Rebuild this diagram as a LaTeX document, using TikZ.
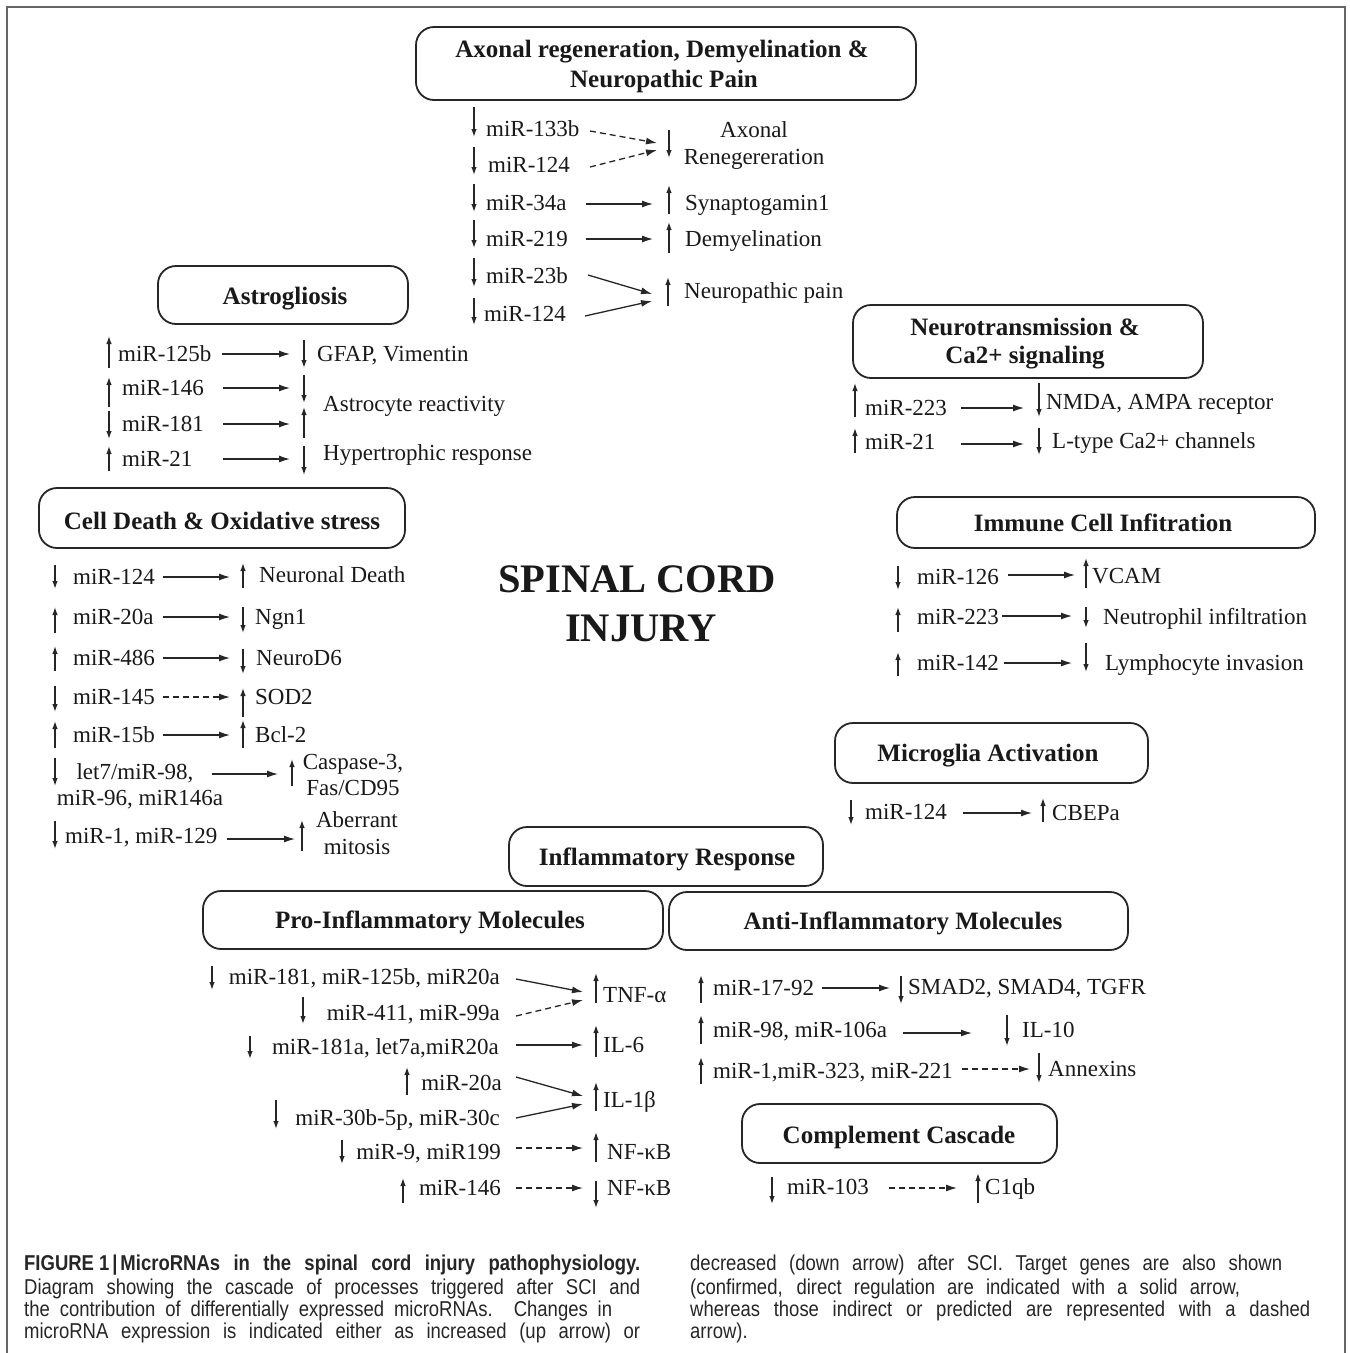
\documentclass[tikz,border=0pt]{standalone}
\usepackage{fontspec}
\setmainfont{Liberation Serif}
\newfontfamily\capfont[FakeStretch=0.86]{Liberation Sans}
\usetikzlibrary{arrows.meta}
\tikzset{
  hbox/.style={draw=black!85, line width=1.8pt, rounded corners=18pt, inner sep=0pt},
  htxt/.style={inner sep=0pt, align=center, text height=17pt, text depth=0pt,
    font=\bfseries\fontsize{25}{30}\selectfont, text=black!90},
  lbl/.style={inner sep=0pt, anchor=west, text height=15.2pt, text depth=0pt, font=\fontsize{23}{27}\selectfont, text=black!90},
  rlbl/.style={lbl, anchor=east},
  con/.style={line width=1.3pt, -{Latex[length=11pt,width=7pt]}, draw=black!85},
  dcon/.style={con, dash pattern=on 6pt off 4pt},
  ind/.style={line width=1.3pt, -{Latex[length=8pt,width=5.5pt]}, draw=black!85},
  capl/.style={inner sep=0pt, anchor=west, text height=15pt, text depth=0pt, font=\capfont\fontsize{21.5}{23}\selectfont, text=black!85},
}
\newcommand{\Ind}[3]{\draw[ind] (#1,#2) -- (#1,#3);}
\newcommand{\Conn}[4][con]{\coordinate (#2s) at (#3); \coordinate (#2e) at (#4); \draw[#1] (#2s) -- (#2e);}
\begin{document}
\begin{tikzpicture}[x=1pt,y=-1pt]
\useasboundingbox (0,0) rectangle (1350,1353);
\fill[white] (0,0) rectangle (1350,1353);
\draw[black!60, line width=2pt] (7,1360) -- (7,7) -- (1345,7) -- (1345,1360);

% ---------- Axonal regeneration ----------
\node[hbox, minimum width=500pt, minimum height=73pt] (hax) at (666,63.5) {};
\node[htxt] (haxt1) at (662,49) {Axonal regeneration, Demyelination \&};
\node[htxt] (haxt2) at (664,79) {Neuropathic Pain};
\node[lbl] (a1) at (486,129) {miR-133b};
\node[lbl] (a2) at (488,165) {miR-124};
\node[lbl] (a3) at (486,203) {miR-34a};
\node[lbl] (a4) at (486,239) {miR-219};
\node[lbl] (a5) at (486,276) {miR-23b};
\node[lbl] (a6) at (484,314) {miR-124};
\Ind{474}{107}{137}
\Ind{474}{147}{175}
\Ind{474}{184}{212}
\Ind{474}{220}{248}
\Ind{474}{258}{287}
\Ind{474}{298}{325}
\Conn[dcon]{ca1}{590,131}{657,143}
\Conn[dcon]{ca2}{590,167}{657,150}
\Conn{ca3}{586,204}{653,204}
\Conn{ca4}{586,239}{653,239}
\Conn{ca5}{588,275}{652,294}
\Conn{ca6}{585,316}{652,301}
\Ind{669}{130}{158}
\Ind{669}{214}{185}
\Ind{669}{253}{222}
\Ind{668}{306}{277}
\node[lbl, anchor=center] (ta1a) at (754,130) {Axonal};
\node[lbl, anchor=center] (ta1b) at (754,157) {Renegereration};
\node[lbl] (ta3) at (685,203) {Synaptogamin1};
\node[lbl] (ta4) at (685,239) {Demyelination};
\node[lbl] (ta5) at (684,291) {Neuropathic pain};

% ---------- Astrogliosis ----------
\node[hbox, minimum width=250pt, minimum height=58pt] (hastro) at (283,295) {};
\node[htxt] (hastrot) at (285,296) {Astrogliosis};
\node[lbl] (s1) at (118,354) {miR-125b};
\node[lbl] (s2) at (122,388) {miR-146};
\node[lbl] (s3) at (122,424) {miR-181};
\node[lbl] (s4) at (122,459) {miR-21};
\Ind{109}{368}{336}
\Ind{109}{407}{377}
\Ind{109}{411}{439}
\Ind{109}{471}{446}
\Conn{cs1}{222,354}{290,354}
\Conn{cs2}{223,388}{290,388}
\Conn{cs3}{223,424}{290,424}
\Conn{cs4}{223,459}{290,459}
\Ind{304}{340}{368}
\Ind{304}{375}{403}
\Ind{304}{438}{407}
\Ind{304}{446}{475}
\node[lbl] (ts1) at (317,354) {GFAP, Vimentin};
\node[lbl] (ts2) at (323,404) {Astrocyte reactivity};
\node[lbl] (ts4) at (323,453) {Hypertrophic response};

% ---------- Neurotransmission ----------
\node[hbox, minimum width=350pt, minimum height=73pt] (hneu) at (1028,341.5) {};
\node[htxt] (hneut1) at (1025,327) {Neurotransmission \&};
\node[htxt] (hneut2) at (1025,355) {Ca2+ signaling};
\node[lbl] (n1) at (865,408) {miR-223};
\node[lbl] (n2) at (865,442) {miR-21};
\Ind{855}{417}{383}
\Ind{855}{453}{428}
\Conn{cn1}{961,408}{1024,408}
\Conn{cn2}{961,444}{1024,444}
\Ind{1039}{383}{417}
\Ind{1039}{428}{455}
\node[lbl] (tn1) at (1046,402) {NMDA, AMPA receptor};
\node[lbl] (tn2) at (1052,441) {L-type Ca2+ channels};

% ---------- Cell death ----------
\node[hbox, minimum width=366pt, minimum height=60pt] (hcd) at (222,518) {};
\node[htxt] (hcdt) at (222,521) {Cell Death \& Oxidative stress};
\node[lbl] (d1) at (73,577) {miR-124};
\node[lbl] (d2) at (73,617) {miR-20a};
\node[lbl] (d3) at (73,658) {miR-486};
\node[lbl] (d4) at (73,697) {miR-145};
\node[lbl] (d5) at (73,735) {miR-15b};
\node[lbl, anchor=center] (d6a) at (135,772) {let7/miR-98,};
\node[lbl, anchor=center] (d6b) at (140,798) {miR-96, miR146a};
\node[lbl] (d7) at (65,836) {miR-1, miR-129};
\Ind{55}{565}{589}
\Ind{55}{633}{607}
\Ind{55}{671}{646}
\Ind{55}{686}{712}
\Ind{55}{748}{721}
\Ind{55}{758}{786}
\Ind{55}{821}{849}
\Conn{cd1}{163,577}{230,577}
\Conn{cd2}{163,617}{230,617}
\Conn{cd3}{163,658}{230,658}
\Conn[dcon]{cd4}{163,697}{230,697}
\Conn{cd5}{163,735}{230,735}
\Conn{cd6}{212,774}{278,774}
\Conn{cd7}{227,839}{295,839}
\Ind{243}{588}{563}
\Ind{243}{607}{633}
\Ind{243}{649}{674}
\Ind{243}{717}{688}
\Ind{243}{748}{720}
\Ind{292}{786}{759}
\Ind{302}{851}{820}
\node[lbl] (td1) at (259,575) {Neuronal Death};
\node[lbl] (td2) at (255,617) {Ngn1};
\node[lbl] (td3) at (256,658) {NeuroD6};
\node[lbl] (td4) at (255,697) {SOD2};
\node[lbl] (td5) at (255,735) {Bcl-2};
\node[lbl, anchor=center] (td6a) at (353,762) {Caspase-3,};
\node[lbl, anchor=center] (td6b) at (353,788) {Fas/CD95};
\node[lbl, anchor=center] (td7a) at (357,820) {Aberrant};
\node[lbl, anchor=center] (td7b) at (357,847) {mitosis};

% ---------- SCI ----------
\node[inner sep=0pt, text height=27.5pt, text depth=0pt, font=\bfseries\fontsize{40.5}{48}\selectfont, text=black!90] (sci1) at (637,579) {SPINAL CORD};
\node[inner sep=0pt, text height=27.5pt, text depth=0pt, font=\bfseries\fontsize{40.5}{48}\selectfont, text=black!90] (sci2) at (641,628) {INJURY};

% ---------- Immune ----------
\node[hbox, minimum width=418pt, minimum height=51pt] (himm) at (1106,522.5) {};
\node[htxt] (himmt) at (1103,523) {Immune Cell Infitration};
\node[lbl] (i1) at (917,577) {miR-126};
\node[lbl] (i2) at (917,617) {miR-223};
\node[lbl] (i3) at (917,663) {miR-142};
\Ind{898}{566}{590}
\Ind{898}{632}{607}
\Ind{898}{676}{652}
\Conn{ci1}{1008,575}{1075,575}
\Conn{ci2}{1002,616}{1072,616}
\Conn{ci3}{1004,663}{1072,663}
\Ind{1086}{588}{558}
\Ind{1086}{607}{628}
\Ind{1086}{643}{672}
\node[lbl] (ti1) at (1092,576) {VCAM};
\node[lbl] (ti2) at (1103,617) {Neutrophil infiltration};
\node[lbl] (ti3) at (1105,663) {Lymphocyte invasion};

% ---------- Microglia ----------
\node[hbox, minimum width=313pt, minimum height=60pt] (hmic) at (991.5,753) {};
\node[htxt] (hmict) at (988,753) {Microglia Activation};
\node[lbl] (m1) at (865,812) {miR-124};
\Ind{851}{800}{825}
\Conn{cm1}{963,813}{1032,813}
\Ind{1043}{822}{798}
\node[lbl] (tm1) at (1052,813) {CBEPa};

% ---------- Inflammatory ----------
\node[hbox, minimum width=314pt, minimum height=59pt] (hinf) at (666,856.5) {};
\node[htxt] (hinft) at (667,857) {Inflammatory Response};
\node[hbox, minimum width=460pt, minimum height=58pt] (hpro) at (433,920) {};
\node[htxt] (hprot) at (430,920) {Pro-Inflammatory Molecules};
\node[hbox, minimum width=459pt, minimum height=58pt] (hanti) at (898.5,921) {};
\node[htxt] (hantit) at (903,921) {Anti-Inflammatory Molecules};

\node[rlbl] (p1) at (500,977) {miR-181, miR-125b, miR20a};
\node[rlbl] (p2) at (500,1013) {miR-411, miR-99a};
\node[rlbl] (p3) at (499,1047) {miR-181a, let7a,miR20a};
\node[rlbl] (p4) at (502,1083) {miR-20a};
\node[rlbl] (p5) at (500,1118) {miR-30b-5p, miR-30c};
\node[rlbl] (p6) at (501,1152) {miR-9, miR199};
\node[rlbl] (p7) at (501,1188) {miR-146};
\Ind{212}{966}{990}
\Ind{303}{997}{1024}
\Ind{250}{1036}{1059}
\Ind{407}{1095}{1067}
\Ind{276}{1100}{1129}
\Ind{342}{1140}{1164}
\Ind{403}{1203}{1178}
\Conn{cp1}{516,979}{583,992}
\Conn[dcon]{cp2}{516,1016}{583,1000}
\Conn{cp3}{516,1045}{583,1045}
\Conn{cp4}{516,1077}{583,1096}
\Conn{cp5}{516,1118}{583,1104}
\Conn[dcon]{cp6}{516,1148}{583,1148}
\Conn[dcon]{cp7}{516,1188}{583,1188}
\Ind{596}{1003}{973}
\Ind{596}{1057}{1025}
\Ind{596}{1111}{1082}
\Ind{596}{1162}{1132}
\Ind{596}{1181}{1208}
\node[lbl] (tp1) at (603,995) {TNF-α};
\node[lbl] (tp3) at (603,1045) {IL-6};
\node[lbl] (tp4) at (603,1100) {IL-1β};
\node[lbl] (tp6) at (607,1152) {NF-κB};
\node[lbl] (tp7) at (607,1188) {NF-κB};

% ---------- Anti ----------
\node[lbl] (q1) at (713,988) {miR-17-92};
\node[lbl] (q2) at (713,1030) {miR-98, miR-106a};
\node[lbl] (q3) at (713,1071) {miR-1,miR-323, miR-221};
\Ind{701}{1003}{975}
\Ind{701}{1044}{1015}
\Ind{701}{1084}{1057}
\Conn{cq1}{822,988}{890,988}
\Conn{cq2}{903,1033}{972,1033}
\Conn[dcon]{cq3}{962,1069}{1030,1069}
\Ind{901}{976}{1004}
\Ind{1007}{1015}{1046}
\Ind{1039}{1053}{1083}
\node[lbl] (tq1) at (908,987) {SMAD2, SMAD4, TGFR};
\node[lbl] (tq2) at (1022,1030) {IL-10};
\node[lbl] (tq3) at (1048,1069) {Annexins};

% ---------- Complement ----------
\node[hbox, minimum width=315pt, minimum height=59pt] (hcomp) at (899.5,1133.5) {};
\node[htxt] (hcompt) at (899,1135) {Complement Cascade};
\node[lbl] (k1) at (787,1187) {miR-103};
\Ind{772}{1177}{1204}
\Conn[dcon]{ck1}{889,1188}{957,1188}
\Ind{978}{1203}{1173}
\node[lbl] (tk1) at (985,1187) {C1qb};

% ---------- Caption ----------
\node[capl] (L1) at (24,1263) {\makebox[616pt][s]{\bfseries FIGURE\hspace{5pt}1\hspace{3pt}|\hspace{3pt}MicroRNAs in the spinal cord injury pathophysiology.}};
\node[capl] (L2) at (24,1287) {\makebox[616pt][s]{Diagram showing the cascade of processes triggered after SCI and}};
\node[capl] (L3) at (24,1309) {\makebox[588pt][s]{the contribution of differentially expressed microRNAs. Changes in}};
\node[capl] (L4) at (24,1331) {\makebox[616pt][s]{microRNA expression is indicated either as increased (up arrow) or}};
\node[capl] (R1) at (690,1263) {\makebox[592pt][s]{decreased (down arrow) after SCI. Target genes are also shown}};
\node[capl] (R2) at (690,1287) {\makebox[550pt][s]{(confirmed, direct regulation are indicated with a solid arrow,}};
\node[capl] (R3) at (690,1309) {\makebox[620pt][s]{whereas those indirect or predicted are represented with a dashed}};
\node[capl] (R4) at (690,1331) {arrow).};
\end{tikzpicture}
\end{document}
